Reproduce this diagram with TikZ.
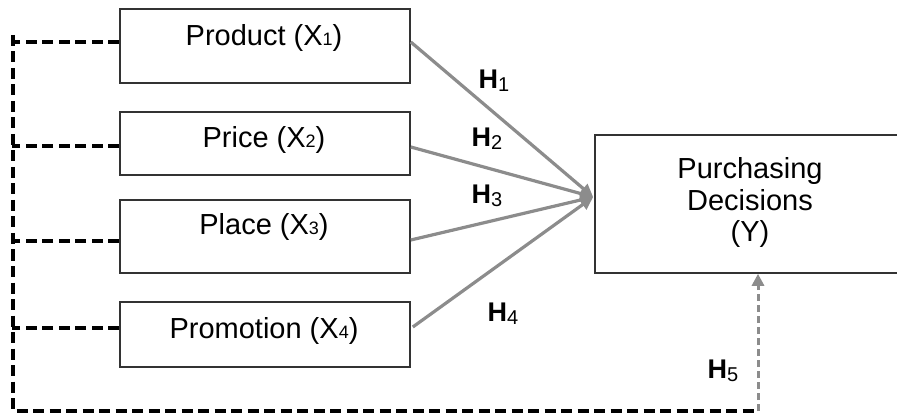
\documentclass[tikz,border=0pt]{standalone}
\usepackage{fontspec}
\setmainfont{Liberation Sans}
\usetikzlibrary{calc,arrows.meta}
\definecolor{boxc}{HTML}{333333}
\definecolor{arrc}{HTML}{8C8C8C}
\newcommand{\xsubdig}[1]{{\fontsize{18}{18}\selectfont #1}}
\newcommand{\hsubdig}[1]{\raisebox{-3pt}{\normalfont\fontsize{20}{20}\selectfont #1}}
\begin{document}
\begin{tikzpicture}[x=1pt,y=-1pt,
  box/.style={draw=boxc, line width=1.6pt, minimum width=290pt, inner sep=0pt},
  lbl/.style={font=\fontsize{29}{31.5}\selectfont, anchor=base, inner sep=0pt, align=center},
  hyp/.style={font=\fontsize{27}{30}\selectfont\bfseries, inner sep=0pt},
  conn/.style={draw=arrc, line width=3.2pt, -{Triangle[length=13pt,width=12pt]}},
  dline/.style={draw=black, line width=3.5pt, dash pattern=on 11pt off 5.5pt},
  gline/.style={draw=arrc, line width=3pt, dash pattern=on 7pt off 4pt, -{Triangle[length=12pt,width=12pt]}}
]
\useasboundingbox (0,0) rectangle (897,414);
\clip (0,0) rectangle (897,414);

% boxes
\node[box, minimum height=74pt] (prod)  at (265,46)    {};
\node[box, minimum height=63pt] (price) at (265,143.5) {};
\node[box, minimum height=73pt] (place) at (265,236.5) {};
\node[box, minimum height=65pt] (promo) at (265,334.5) {};
\node[box, minimum width=310pt, minimum height=138pt] (dec) at (750,204) {};

% box texts
\node[lbl] (tprod)  at (264,46)  {Product (X\xsubdig{1})};
\node[lbl] (tprice) at (264,148) {Price (X\xsubdig{2})};
\node[lbl] (tplace) at (264,235) {Place (X\xsubdig{3})};
\node[lbl] (tpromo) at (264,338) {Promotion (X\xsubdig{4})};
\node[lbl] (tdec)   at (750,242) {Purchasing\\Decisions\\(Y)};

% solid arrows
\draw[conn] ($(prod.east)+(0,-4)$)  -- ($(dec.west)+(-1,-7)$);
\draw[conn] ($(price.east)+(0,3.5)$) -- ($(dec.west)+(-1,-7)$);
\draw[conn] ($(place.east)+(0,3.5)$) -- ($(dec.west)+(-1,-7)$);
\draw[conn] ($(promo.east)+(2,-7.5)$) -- ($(dec.west)+(-1,-7)$);

% hypothesis labels
\node[hyp] (h1) at (494,81)  {H\hsubdig{1}};
\node[hyp] (h2) at (487,139) {H\hsubdig{2}};
\node[hyp] (h3) at (487,196) {H\hsubdig{3}};
\node[hyp] (h4) at (503,314) {H\hsubdig{4}};
\node[hyp] (h5) at (723,371) {H\hsubdig{5}};

% dashed moderating lines
\coordinate (lt) at (13,35);
\coordinate (lb) at (13,411);
\coordinate (rb) at (758,411);
\draw[dline] ($(prod.west)+(0,-4)$)   -- ++(-107,0);
\draw[dline] ($(price.west)+(0,2.5)$) -- ++(-107,0);
\draw[dline] ($(place.west)+(0,4.5)$) -- ++(-107,0);
\draw[dline] ($(promo.west)+(0,-6.5)$) -- ++(-107,0);
\draw[dline] (lt) -- (lb) -- (rb);
\draw[gline] (rb) -- ($(dec.south)+(8,0)$);
\end{tikzpicture}
\end{document}
